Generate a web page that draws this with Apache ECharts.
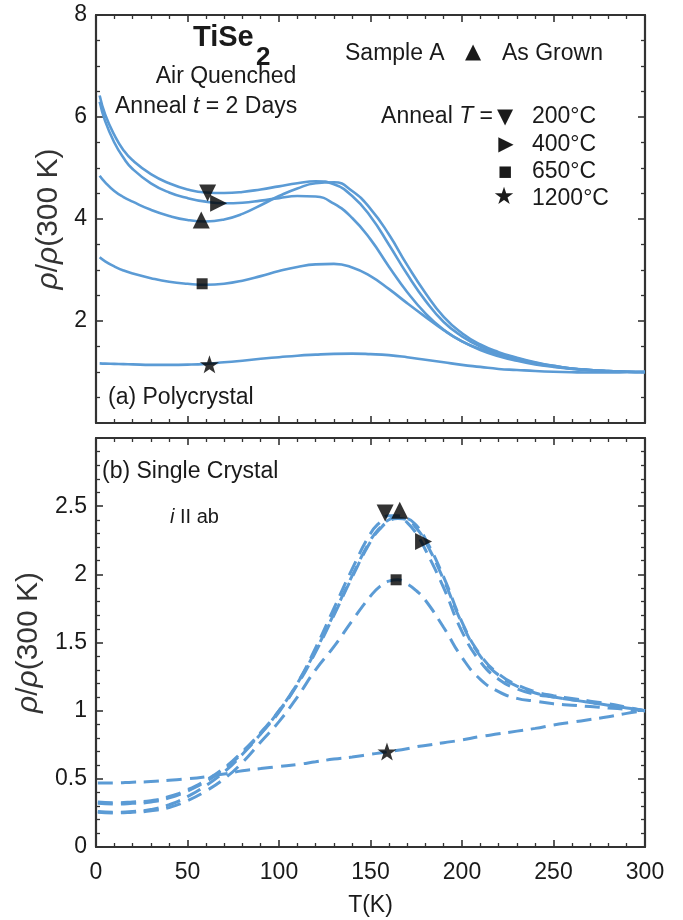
<!DOCTYPE html>
<html>
<head>
<meta charset="utf-8">
<script src="https://cdn.jsdelivr.net/npm/echarts@6/dist/echarts.min.js"></script>
<style>
html,body{margin:0;padding:0;background:#fff;}
#c{width:683px;height:920px;}
</style>
</head>
<body>
<div id="c"></div>
<script>
// ---------- DATA ----------
// (a) Polycrystal, solid lines
const polyT = [2, 5, 10, 15, 20, 30, 40, 50, 60, 70, 80, 90, 100, 110, 120, 130, 140, 150, 160, 170, 180, 190, 200, 210, 220, 230, 240, 250, 260, 270, 280, 290, 300];
const poly200 = [6.42, 6.05, 5.65, 5.35, 5.15, 4.88, 4.70, 4.58, 4.52, 4.51, 4.53, 4.58, 4.64, 4.70, 4.74, 4.68, 4.45, 4.05, 3.50, 2.92, 2.40, 1.98, 1.70, 1.50, 1.37, 1.27, 1.18, 1.12, 1.07, 1.04, 1.02, 1.005, 1.0];
const poly400 = [6.30, 5.92, 5.50, 5.20, 4.98, 4.70, 4.52, 4.41, 4.34, 4.31, 4.32, 4.36, 4.41, 4.45, 4.44, 4.30, 4.02, 3.60, 3.07, 2.57, 2.15, 1.83, 1.60, 1.45, 1.34, 1.25, 1.17, 1.11, 1.07, 1.04, 1.02, 1.005, 1.0];
const polyGrown = [4.85, 4.72, 4.55, 4.43, 4.34, 4.18, 4.06, 3.98, 3.95, 3.99, 4.10, 4.27, 4.45, 4.60, 4.70, 4.72, 4.55, 4.20, 3.70, 3.10, 2.55, 2.08, 1.76, 1.54, 1.39, 1.28, 1.19, 1.12, 1.07, 1.04, 1.02, 1.005, 1.0];
const poly650 = [3.25, 3.17, 3.07, 2.99, 2.93, 2.84, 2.77, 2.73, 2.71, 2.73, 2.79, 2.88, 2.98, 3.06, 3.11, 3.12, 3.05, 2.88, 2.63, 2.35, 2.08, 1.82, 1.60, 1.43, 1.31, 1.22, 1.15, 1.10, 1.06, 1.03, 1.015, 1.005, 1.0];
const poly1200 = [1.17, 1.165, 1.16, 1.155, 1.15, 1.14, 1.14, 1.145, 1.16, 1.19, 1.22, 1.26, 1.29, 1.32, 1.34, 1.355, 1.36, 1.35, 1.33, 1.29, 1.24, 1.19, 1.14, 1.10, 1.06, 1.04, 1.02, 1.005, 0.995, 0.99, 0.99, 0.995, 1.0];
// marker points [T, rho] for (a)
const polyMarkGrown = [[57.5, 3.98]];
const polyMark200 = [[61, 4.51]];
const polyMark400 = [[67, 4.31]];
const polyMark650 = [[58, 2.73]];
const polyMark1200 = [[62, 1.15]];

// (b) Single crystal, dashed lines
const singleT = [1, 10, 20, 30, 40, 50, 60, 70, 80, 90, 100, 110, 120, 130, 140, 150, 155, 160, 165, 170, 175, 180, 190, 200, 210, 220, 230, 240, 250, 260, 270, 280, 290, 300];
const single200 = [0.32, 0.315, 0.32, 0.33, 0.36, 0.41, 0.48, 0.57, 0.69, 0.83, 0.99, 1.20, 1.46, 1.75, 2.04, 2.30, 2.38, 2.43, 2.43, 2.38, 2.30, 2.18, 1.90, 1.58, 1.36, 1.23, 1.16, 1.12, 1.10, 1.08, 1.06, 1.04, 1.02, 1.0];
const singleGrown = [0.33, 0.325, 0.33, 0.34, 0.37, 0.42, 0.49, 0.58, 0.70, 0.84, 1.00, 1.19, 1.43, 1.70, 1.98, 2.24, 2.33, 2.39, 2.41, 2.40, 2.34, 2.24, 1.96, 1.64, 1.40, 1.26, 1.18, 1.13, 1.10, 1.08, 1.06, 1.04, 1.02, 1.0];
const single400 = [0.26, 0.255, 0.26, 0.275, 0.31, 0.37, 0.45, 0.55, 0.68, 0.83, 1.00, 1.20, 1.44, 1.71, 1.99, 2.25, 2.34, 2.40, 2.42, 2.41, 2.36, 2.26, 1.98, 1.65, 1.41, 1.27, 1.19, 1.14, 1.11, 1.09, 1.07, 1.05, 1.025, 1.0];
const single650 = [0.255, 0.25, 0.255, 0.265, 0.29, 0.34, 0.41, 0.50, 0.62, 0.77, 0.92, 1.10, 1.30, 1.47, 1.66, 1.84, 1.91, 1.95, 1.96, 1.93, 1.88, 1.81, 1.61, 1.39, 1.23, 1.14, 1.09, 1.07, 1.05, 1.04, 1.03, 1.02, 1.01, 1.0];
const single1200 = [0.47, 0.47, 0.475, 0.48, 0.49, 0.50, 0.515, 0.535, 0.56, 0.575, 0.59, 0.605, 0.625, 0.645, 0.66, 0.68, 0.69, 0.70, 0.71, 0.72, 0.735, 0.745, 0.765, 0.785, 0.81, 0.83, 0.85, 0.87, 0.895, 0.915, 0.935, 0.955, 0.98, 1.0];
const singleMarkGrown = [[166, 2.47]];
const singleMark200 = [[158, 2.45]];
const singleMark400 = [[179, 2.24]];
const singleMark650 = [[164, 1.96]];
const singleMark1200 = [[159, 0.70]];

const xTicks = [0, 50, 100, 150, 200, 250, 300];
const polyYTicks = [2, 4, 6, 8];
const singleYTicks = [0, 0.5, 1, 1.5, 2, 2.5];

// ---------- STYLE ----------
const FONT = "'Liberation Sans', Arial, Helvetica, sans-serif";
const SYMFONT = "'DejaVu Sans', sans-serif";
const LINE = '#5b9bd5';
const AX = '#333';
const TXT = '#1a1a1a';
const STAR = 'path://M50,0 L61.8,35.1 L98.1,35.1 L68.8,56.7 L79.4,90.9 L50,70 L20.6,90.9 L31.2,56.7 L1.9,35.1 L38.2,35.1 Z';

function zip(xs, ys){ return xs.map((x,i)=>[x, ys[i]]); }

function xAx(grid, pos, showLabel){
  return {
    type:'value', gridIndex:grid, position:pos, min:0, max:300, interval:50,
    axisLine:{show:true, onZero:false, lineStyle:{color:AX, width:2.2}},
    axisTick:{show:true, inside:true, length:7, lineStyle:{color:AX, width:1.6}},
    minorTick:{show:true, splitNumber:5, length:4, lineStyle:{color:AX, width:1.3}},
    splitLine:{show:false},
    axisLabel:{show:showLabel, margin:14, fontSize:23, color:TXT, fontFamily:FONT,
      formatter:v=> xTicks.indexOf(v)>=0 ? String(v) : ''},
    name: showLabel ? 'T(K)' : '', nameLocation:'middle', nameGap:47,
    nameTextStyle:{fontSize:23, color:TXT, fontFamily:FONT}
  };
}
function yAx(grid, pos, min, max, interval, minorSplit, ticks, showLabel, showName, gap){
  return {
    type:'value', gridIndex:grid, position:pos, min:min, max:max, interval:interval,
    axisLine:{show:true, onZero:false, lineStyle:{color:AX, width:2.2}},
    axisTick:{show:true, inside:true, length:7, lineStyle:{color:AX, width:1.6}},
    minorTick:{show:true, splitNumber:minorSplit, length:4, lineStyle:{color:AX, width:1.3}},
    splitLine:{show:false},
    axisLabel:{show:showLabel, margin:9, fontSize:23, color:TXT, fontFamily:FONT,
      formatter:v=> ticks.indexOf(v)>=0 ? String(v) : ''},
    name: showName ? '{i|ρ}{n|/}{i|ρ}{n|(300 K)}' : '',
    nameLocation:'middle', nameGap:gap, nameRotate:90,
    nameTextStyle:{fontSize:30, color:AX, fontFamily:FONT,
      rich:{i:{fontStyle:'italic', fontSize:30, color:AX, fontFamily:FONT},
            n:{fontSize:30, color:AX, fontFamily:FONT}}}
  };
}

function lineS(name, xi, yi, xs, ys, dashed){
  return {
    name:name, type:'line', xAxisIndex:xi, yAxisIndex:yi, data:zip(xs, ys),
    showSymbol:false, smooth:0.5, silent:true, z:2,
    lineStyle: dashed ? {color:LINE, width:3, type:[15,8], cap:'butt'} : {color:LINE, width:2.6}
  };
}
function markS(xi, yi, data, symbol, size, rotate){
  return {
    type:'scatter', xAxisIndex:xi, yAxisIndex:yi, data:data, symbol:symbol,
    symbolSize:size, symbolRotate:rotate||0, symbolKeepAspect:true, silent:true, z:5,
    itemStyle:{color:'#000'}
  };
}

function txt(x, y, text, size, opts){
  opts = opts || {};
  return {
    type:'text', x:x, y:y, z:10, silent:true,
    style:Object.assign({text:text, fontSize:size, fill:TXT, fontFamily:FONT,
      textAlign:opts.align||'left', textVerticalAlign:'middle',
      fontWeight:opts.weight||'normal'}, opts.style||{})
  };
}
const richIt = (size)=>({ n:{fontSize:size, fontFamily:FONT, fill:TXT, color:TXT},
                          i:{fontSize:size, fontFamily:FONT, fontStyle:'italic', fill:TXT, color:TXT} });

const chart = echarts.init(document.getElementById('c'), null, {renderer:'canvas'});
chart.setOption({
  animation:false,
  backgroundColor:'#fff',
  grid:[
    {left:96, right:38, top:15, height:408},
    {left:96, right:38, top:438, height:409}
  ],
  xAxis:[ xAx(0,'bottom',false), xAx(0,'top',false), xAx(1,'bottom',true), xAx(1,'top',false) ],
  yAxis:[
    yAx(0,'left',0,8,2,4,polyYTicks,true,true,31),
    yAx(0,'right',0,8,2,4,polyYTicks,false,false,0),
    yAx(1,'left',0,3,0.5,5,singleYTicks,true,true,45),
    yAx(1,'right',0,3,0.5,5,singleYTicks,false,false,0)
  ],
  series:[
    lineS('200',0,0,polyT,poly200,false),
    lineS('400',0,0,polyT,poly400,false),
    lineS('grown',0,0,polyT,polyGrown,false),
    lineS('650',0,0,polyT,poly650,false),
    lineS('1200',0,0,polyT,poly1200,false),
    markS(0,0,polyMarkGrown,'triangle',17,0),
    markS(0,0,polyMark200,'triangle',17,180),
    markS(0,0,polyMark400,'triangle',17,-90),
    markS(0,0,polyMark650,'rect',11,0),
    markS(0,0,polyMark1200,STAR,19,0),

    lineS('s200',2,2,singleT,single200,true),
    lineS('sgrown',2,2,singleT,singleGrown,true),
    lineS('s400',2,2,singleT,single400,true),
    lineS('s650',2,2,singleT,single650,true),
    lineS('s1200',2,2,singleT,single1200,true),
    markS(2,2,singleMarkGrown,'triangle',17,0),
    markS(2,2,singleMark200,'triangle',17,180),
    markS(2,2,singleMark400,'triangle',17,-90),
    markS(2,2,singleMark650,'rect',11,0),
    markS(2,2,singleMark1200,STAR,19,0)
  ],
  graphic:[
    txt(193, 38, 'TiSe', 29, {weight:'bold'}),
    txt(256, 58, '2', 26, {weight:'bold'}),
    txt(226, 77, 'Air Quenched', 23, {align:'center'}),
    txt(115, 107, '{n|Anneal }{i|t}{n| = 2 Days}', 23, {style:{rich:richIt(23)}}),
    txt(345, 54, 'Sample A', 23),
    txt(473, 53, '▲', 21, {align:'center', style:{fontFamily:SYMFONT}}),
    txt(502, 54, 'As Grown', 23),
    txt(493, 117, '{n|Anneal }{i|T}{n| =}', 23, {align:'right', style:{rich:richIt(23)}}),
    txt(505, 118, '▼', 21, {align:'center', style:{fontFamily:SYMFONT}}),
    txt(532, 117, '200°C', 23),
    txt(506, 145, '▶', 20, {align:'center', style:{fontFamily:SYMFONT}}),
    txt(532, 145, '400°C', 23),
    txt(505, 172, '■', 15, {align:'center', style:{fontFamily:SYMFONT}}),
    txt(532, 172, '650°C', 23),
    txt(504, 198, '★', 24, {align:'center', style:{fontFamily:SYMFONT}}),
    txt(532, 199, '1200°C', 23),
    txt(108, 398, '(a) Polycrystal', 23),
    txt(102, 472, '(b) Single Crystal', 23),
    txt(170, 517, '{i|i}{n| II ab}', 20, {style:{rich:richIt(20)}})
  ]
});
</script>
</body>
</html>
